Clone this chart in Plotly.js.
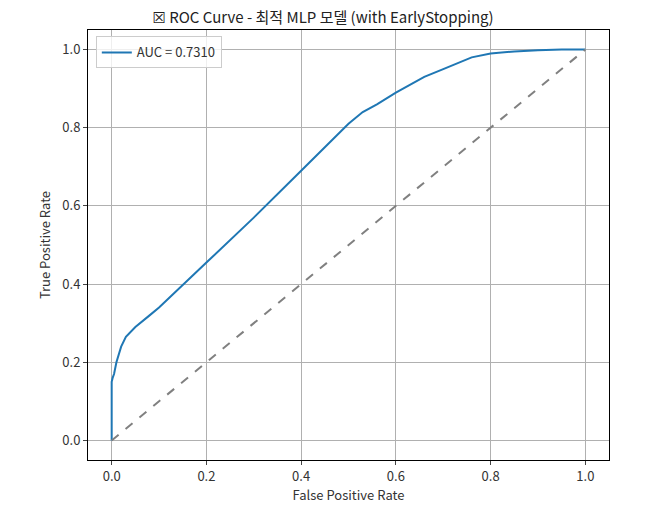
<!DOCTYPE html>
<html><head><meta charset="utf-8">
<script src="https://cdn.plot.ly/plotly-3.0.1.min.js"></script>
<style>body{margin:0}</style></head><body>
<div id="c" style="width:646px;height:518px"></div>
<script>
const fpr = [0,0,0.002,0.005,0.01,0.015,0.02,0.03,0.05,0.08,0.1,0.2,0.3,0.4,0.5,0.53,0.56,0.6,0.63,0.66,0.7,0.73,0.76,0.8,0.85,0.9,0.95,1.0];
const tpr = [0,0.15,0.16,0.17,0.2,0.22,0.24,0.265,0.29,0.32,0.34,0.455,0.57,0.69,0.81,0.84,0.86,0.89,0.91,0.93,0.95,0.965,0.98,0.99,0.995,0.998,1.0,1.0];
const diag = [0,1];
const font = {family:"Noto Sans CJK KR, DejaVu Sans", size:13, color:"#333"};
Plotly.newPlot("c",[
 {x:fpr,y:tpr,mode:"lines",line:{color:"#1f77b4",width:2},name:"AUC = 0.7310"},
 {x:diag,y:diag,mode:"lines",line:{color:"gray",width:2,dash:"dash"},showlegend:false}
],{
 width:646,height:518,font:font,
 margin:{l:88,r:37,t:30,b:58},
 title:{text:"☒ ROC Curve - 최적 MLP 모델 (with EarlyStopping)",font:{size:15,color:"#222"},x:0.5,y:0.975},
 xaxis:{range:[-0.05,1.05],tickvals:[0,0.2,0.4,0.6,0.8,1],ticktext:["0.0","0.2","0.4","0.6","0.8","1.0"],showgrid:true,gridcolor:"#b0b0b0",zeroline:false,showline:true,mirror:true,linecolor:"#000",ticks:"outside",ticklen:4,title:{text:"False Positive Rate",font:{size:13},standoff:6}},
 yaxis:{range:[-0.05,1.05],tickvals:[0,0.2,0.4,0.6,0.8,1],ticktext:["0.0","0.2","0.4","0.6","0.8","1.0"],showgrid:true,gridcolor:"#b0b0b0",zeroline:false,showline:true,mirror:true,linecolor:"#000",ticks:"outside",ticklen:4,title:{text:"True Positive Rate",font:{size:13},standoff:8}},
 legend:{x:0.015,y:0.985,bordercolor:"#ccc",borderwidth:1,bgcolor:"rgba(255,255,255,0.8)",font:{size:13}},
 plot_bgcolor:"#fff",paper_bgcolor:"#fff"
},{displayModeBar:false});
</script></body></html>
